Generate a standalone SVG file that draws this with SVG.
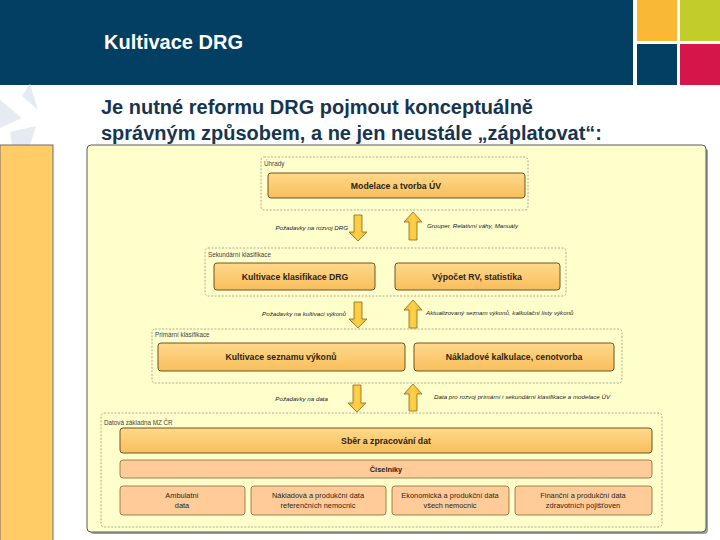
<svg xmlns="http://www.w3.org/2000/svg" width="720" height="540" viewBox="0 0 720 540">
<defs>
<linearGradient id="gBox" x1="0" y1="0" x2="0" y2="1">
<stop offset="0" stop-color="#FFD98A"/>
<stop offset="1" stop-color="#F8BE5C"/>
</linearGradient>
<linearGradient id="gArr" x1="0" y1="0" x2="1" y2="0">
<stop offset="0" stop-color="#F2B12A"/>
<stop offset="0.5" stop-color="#FFD24A"/>
<stop offset="1" stop-color="#F2B12A"/>
</linearGradient>
<style>
.box{fill:url(#gBox);stroke:#6e5225;stroke-width:1}
.pbox{fill:#FFCC99;stroke:#8a6536;stroke-width:0.8}
.grp{fill:none;stroke:#8a8a7a;stroke-width:0.7;stroke-dasharray:2 1.5}
.arr{fill:url(#gArr);stroke:#8a6a1e;stroke-width:0.8;stroke-linejoin:round}
.bl{font-family:"Liberation Sans",Arial,sans-serif;font-weight:bold;font-size:8.7px;fill:#2b2416;text-anchor:middle}
.sl{font-family:"Liberation Sans",Arial,sans-serif;font-size:7.4px;fill:#2b2416;text-anchor:middle}
.gl{font-family:"Liberation Sans",Arial,sans-serif;font-size:6.3px;fill:#444}
.al{font-family:"Liberation Sans",Arial,sans-serif;font-style:italic;font-size:6.2px;fill:#222}
.sub{font-family:"Liberation Sans",Arial,sans-serif;font-weight:bold;font-size:20px;fill:#17354F}
</style>
</defs>
<rect width="720" height="540" fill="#ffffff"/>
<!-- header -->
<rect x="0" y="0" width="633" height="85" fill="#033F63"/>
<rect x="637" y="0" width="40" height="41" fill="#F9B934"/>
<rect x="680" y="0" width="40" height="41" fill="#C2CC2A"/>
<rect x="637" y="44" width="40" height="41" fill="#033F63"/>
<rect x="680" y="44" width="40" height="41" fill="#D4164A"/>
<text x="104" y="49" font-family="'Liberation Sans',Arial,sans-serif" font-weight="bold" font-size="20" fill="#ffffff" textLength="139" lengthAdjust="spacingAndGlyphs">Kultivace DRG</text>
<!-- faint logo -->
<g fill="#E6EBF1">
<polygon points="0,100 22,118 0,128"/>
<polygon points="10,132 36,126 30,145 12,145"/>
<polygon points="22,96 30,84 38,110"/>
</g>
<text class="sub" x="101" y="114" textLength="432" lengthAdjust="spacingAndGlyphs">Je nutné reformu DRG pojmout konceptuálně</text>
<text class="sub" x="101" y="140" textLength="501" lengthAdjust="spacingAndGlyphs">správným způsobem, a ne jen neustále „záplatovat“:</text>
<!-- left column -->
<rect x="0" y="145" width="53" height="400" fill="#FFCC66" stroke="#6d6d6d" stroke-width="1"/>
<!-- main panel -->
<rect x="90" y="148" width="618" height="386" rx="4" fill="#9aa0a6"/>
<rect x="87" y="145" width="619" height="387" rx="4" fill="#FFFFCC" stroke="#5a5a5a" stroke-width="1"/>

<g id="grp-uhrady">
<rect class="grp" x="261" y="157" width="267" height="53" rx="3"/>
<text class="gl" x="264" y="166">Úhrady</text>
</g>
<g id="n-modelace">
<rect class="box" x="268" y="173" width="257" height="25" rx="3"/>
<text class="bl" x="396" y="188.5">Modelace a tvorba ÚV</text>
</g>

<g id="grp-sekundarni">
<rect class="grp" x="205" y="248" width="361" height="48" rx="3"/>
<text class="gl" x="208" y="257">Sekundární klasifikace</text>
</g>
<g id="n-kultivace-drg">
<rect class="box" x="214" y="263" width="161" height="27" rx="3"/>
<text class="bl" x="295" y="279.5">Kultivace klasifikace DRG</text>
</g>
<g id="n-vypocet">
<rect class="box" x="395" y="263" width="165" height="27" rx="3"/>
<text class="bl" x="477" y="279.5">Výpočet RV, statistika</text>
</g>

<g id="grp-primarni">
<rect class="grp" x="152" y="329" width="470" height="54" rx="3"/>
<text class="gl" x="155" y="337">Primární klasifikace</text>
</g>
<g id="n-seznam">
<rect class="box" x="158" y="343" width="247" height="28" rx="3"/>
<text class="bl" x="281" y="359.5">Kultivace seznamu výkonů</text>
</g>
<g id="n-naklady">
<rect class="box" x="414" y="343" width="200" height="28" rx="3"/>
<text class="bl" x="514" y="359.5">Nákladové kalkulace, cenotvorba</text>
</g>

<g id="grp-datova">
<rect class="grp" x="101" y="413" width="561" height="114" rx="3"/>
<text class="gl" x="104" y="425">Datová základna MZ ČR</text>
</g>
<g id="n-sber">
<rect class="box" x="120" y="428" width="532" height="25" rx="3"/>
<text class="bl" x="386" y="443.5">Sběr a zpracování dat</text>
</g>
<g id="n-ciselniky">
<rect class="pbox" x="120" y="460" width="532" height="18" rx="3"/>
<text class="sl" x="386" y="471.5" font-weight="bold" font-size="6.8px">Číselníky</text>
</g>
<g id="n-ambulantni">
<rect class="pbox" x="120" y="486" width="125" height="29" rx="3"/>
<text class="sl" x="182" y="498">Ambulatní</text>
<text class="sl" x="182" y="508">data</text>
</g>
<g id="n-referencni">
<rect class="pbox" x="251" y="486" width="135" height="29" rx="3"/>
<text class="sl" x="318" y="498">Nákladová a produkční data</text>
<text class="sl" x="318" y="508">referenčních nemocnic</text>
</g>
<g id="n-vsechny">
<rect class="pbox" x="392" y="486" width="117" height="29" rx="3"/>
<text class="sl" x="450" y="498">Ekonomická a produkční data</text>
<text class="sl" x="450" y="508">všech nemocnic</text>
</g>
<g id="n-pojistovny">
<rect class="pbox" x="515" y="486" width="137" height="29" rx="3"/>
<text class="sl" x="583" y="498">Finanční a produkční data</text>
<text class="sl" x="583" y="508">zdravotních pojišťoven</text>
</g>

<g id="connectors">
<path class="arr" d="M354,215 L362,215 L362,232 L367,232 L358,241 L349,232 L354,232 Z"/>
<path class="arr" d="M409,240 L417,240 L417,222 L422,222 L413,212 L404,222 L409,222 Z"/>
<text class="al" x="348" y="230" text-anchor="end">Požadavky na rozvoj DRG</text>
<text class="al" x="427" y="228">Grouper, Relativní váhy, Manuály</text>

<path class="arr" d="M354,302 L362,302 L362,319 L367,319 L358,328 L349,319 L354,319 Z"/>
<path class="arr" d="M409,328 L417,328 L417,310 L422,310 L413,300 L404,310 L409,310 Z"/>
<text class="al" x="346" y="316" text-anchor="end">Požadavky na kultivaci výkonů</text>
<text class="al" x="426" y="315">Aktualizovaný seznam výkonů, kalkulační listy výkonů</text>

<path class="arr" d="M353,385 L361,385 L361,403 L366,403 L357,412 L348,403 L353,403 Z"/>
<path class="arr" d="M409,411 L417,411 L417,394 L422,394 L413,384 L404,394 L409,394 Z"/>
<text class="al" x="328" y="401" text-anchor="end">Požadavky na data</text>
<text class="al" x="434" y="399">Data pro rozvoj primární i sekundární klasifikace a modelace ÚV</text>
</g>
</svg>
